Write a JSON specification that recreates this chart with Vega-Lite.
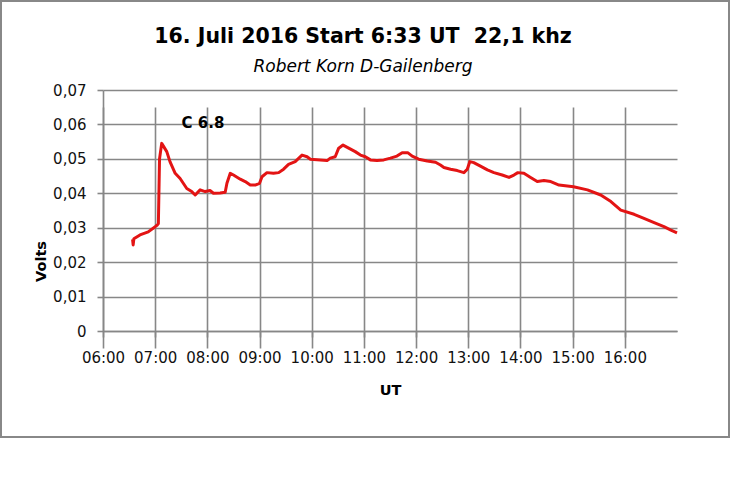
{
  "$schema": "https://vega.github.io/schema/vega-lite/v6.json",
  "width": 728,
  "height": 436,
  "autosize": {"type": "none"},
  "padding": {"left": 1, "top": 1, "right": 1, "bottom": 65},
  "background": "white",
  "title": {
    "text": "16. Juli 2016 Start 6:33 UT \u00a022,1 khz",
    "subtitle": "Robert Korn D-Gailenberg",
    "font": "DejaVu Sans",
    "fontSize": 20.5,
    "fontWeight": "bold",
    "color": "#000000",
    "subtitleFont": "DejaVu Sans",
    "subtitleFontSize": 17,
    "subtitleFontStyle": "italic",
    "subtitleColor": "#000000",
    "subtitlePadding": 12,
    "anchor": "middle",
    "frame": "group",
    "offset": 0,
    "dx": -2,
    "dy": 74
  },
  "config": {
    "view": {"stroke": "#888888", "strokeWidth": 2},
    "font": "DejaVu Sans"
  },
  "datasets": {
    "signal": [
      {"t": "2016-07-16T06:34:00", "v": 0.0266},
      {"t": "2016-07-16T06:34:40", "v": 0.0250},
      {"t": "2016-07-16T06:35:30", "v": 0.0268},
      {"t": "2016-07-16T06:42:30", "v": 0.0279},
      {"t": "2016-07-16T06:52:00", "v": 0.0288},
      {"t": "2016-07-16T07:00:00", "v": 0.0303},
      {"t": "2016-07-16T07:02:30", "v": 0.0308},
      {"t": "2016-07-16T07:03:40", "v": 0.0312},
      {"t": "2016-07-16T07:05:00", "v": 0.0500},
      {"t": "2016-07-16T07:07:30", "v": 0.0545},
      {"t": "2016-07-16T07:13:20", "v": 0.0521},
      {"t": "2016-07-16T07:17:00", "v": 0.0492},
      {"t": "2016-07-16T07:23:00", "v": 0.0458},
      {"t": "2016-07-16T07:28:40", "v": 0.0443},
      {"t": "2016-07-16T07:36:20", "v": 0.0414},
      {"t": "2016-07-16T07:42:00", "v": 0.0405},
      {"t": "2016-07-16T07:46:00", "v": 0.0395},
      {"t": "2016-07-16T07:51:40", "v": 0.0410},
      {"t": "2016-07-16T07:57:30", "v": 0.0405},
      {"t": "2016-07-16T08:03:00", "v": 0.0408},
      {"t": "2016-07-16T08:07:00", "v": 0.0400},
      {"t": "2016-07-16T08:14:40", "v": 0.0401},
      {"t": "2016-07-16T08:20:30", "v": 0.0403},
      {"t": "2016-07-16T08:22:30", "v": 0.0429},
      {"t": "2016-07-16T08:26:20", "v": 0.0458},
      {"t": "2016-07-16T08:30:00", "v": 0.0453},
      {"t": "2016-07-16T08:37:50", "v": 0.0441},
      {"t": "2016-07-16T08:43:30", "v": 0.0434},
      {"t": "2016-07-16T08:49:20", "v": 0.0424},
      {"t": "2016-07-16T08:55:00", "v": 0.0424},
      {"t": "2016-07-16T09:00:00", "v": 0.0429},
      {"t": "2016-07-16T09:02:50", "v": 0.0448},
      {"t": "2016-07-16T09:08:30", "v": 0.0460},
      {"t": "2016-07-16T09:16:00", "v": 0.0458},
      {"t": "2016-07-16T09:22:00", "v": 0.0460},
      {"t": "2016-07-16T09:27:40", "v": 0.0470},
      {"t": "2016-07-16T09:33:20", "v": 0.0484},
      {"t": "2016-07-16T09:41:00", "v": 0.0492},
      {"t": "2016-07-16T09:48:50", "v": 0.0511},
      {"t": "2016-07-16T09:54:40", "v": 0.0506},
      {"t": "2016-07-16T09:58:30", "v": 0.0499},
      {"t": "2016-07-16T10:10:00", "v": 0.0497},
      {"t": "2016-07-16T10:17:40", "v": 0.0495},
      {"t": "2016-07-16T10:21:20", "v": 0.0502},
      {"t": "2016-07-16T10:27:00", "v": 0.0506},
      {"t": "2016-07-16T10:31:00", "v": 0.0531},
      {"t": "2016-07-16T10:36:00", "v": 0.0540},
      {"t": "2016-07-16T10:42:30", "v": 0.0531},
      {"t": "2016-07-16T10:50:00", "v": 0.0521},
      {"t": "2016-07-16T10:56:00", "v": 0.0511},
      {"t": "2016-07-16T11:01:40", "v": 0.0506},
      {"t": "2016-07-16T11:07:30", "v": 0.0497},
      {"t": "2016-07-16T11:15:00", "v": 0.0495},
      {"t": "2016-07-16T11:22:50", "v": 0.0497},
      {"t": "2016-07-16T11:30:30", "v": 0.0502},
      {"t": "2016-07-16T11:38:00", "v": 0.0508},
      {"t": "2016-07-16T11:44:00", "v": 0.0518},
      {"t": "2016-07-16T11:50:20", "v": 0.0518},
      {"t": "2016-07-16T11:55:30", "v": 0.0508},
      {"t": "2016-07-16T12:03:00", "v": 0.0499},
      {"t": "2016-07-16T12:12:50", "v": 0.0494},
      {"t": "2016-07-16T12:22:20", "v": 0.0490},
      {"t": "2016-07-16T12:28:00", "v": 0.0482},
      {"t": "2016-07-16T12:32:00", "v": 0.0475},
      {"t": "2016-07-16T12:39:40", "v": 0.0470},
      {"t": "2016-07-16T12:47:20", "v": 0.0466},
      {"t": "2016-07-16T12:55:00", "v": 0.0460},
      {"t": "2016-07-16T12:58:50", "v": 0.0470},
      {"t": "2016-07-16T13:01:50", "v": 0.0492},
      {"t": "2016-07-16T13:06:20", "v": 0.0489},
      {"t": "2016-07-16T13:14:00", "v": 0.0479},
      {"t": "2016-07-16T13:22:00", "v": 0.0468},
      {"t": "2016-07-16T13:29:30", "v": 0.0460},
      {"t": "2016-07-16T13:39:00", "v": 0.0453},
      {"t": "2016-07-16T13:46:50", "v": 0.0446},
      {"t": "2016-07-16T13:52:30", "v": 0.0453},
      {"t": "2016-07-16T13:57:00", "v": 0.0460},
      {"t": "2016-07-16T14:04:00", "v": 0.0458},
      {"t": "2016-07-16T14:11:40", "v": 0.0446},
      {"t": "2016-07-16T14:19:20", "v": 0.0434},
      {"t": "2016-07-16T14:27:00", "v": 0.0437},
      {"t": "2016-07-16T14:34:50", "v": 0.0434},
      {"t": "2016-07-16T14:44:20", "v": 0.0424},
      {"t": "2016-07-16T15:01:00", "v": 0.0419},
      {"t": "2016-07-16T15:17:00", "v": 0.0410},
      {"t": "2016-07-16T15:32:20", "v": 0.0395},
      {"t": "2016-07-16T15:44:00", "v": 0.0376},
      {"t": "2016-07-16T15:55:20", "v": 0.0351},
      {"t": "2016-07-16T16:10:40", "v": 0.0339},
      {"t": "2016-07-16T16:22:00", "v": 0.0327},
      {"t": "2016-07-16T16:33:40", "v": 0.0315},
      {"t": "2016-07-16T16:45:00", "v": 0.0303},
      {"t": "2016-07-16T16:53:00", "v": 0.0293},
      {"t": "2016-07-16T17:00:00", "v": 0.0285}
    ],
    "note": [
      {"t": "2016-07-16T07:55:00", "v": 0.0605, "label": "C 6.8"}
    ]
  },
  "layer": [
    {
      "data": {"name": "signal"},
      "mark": {"type": "line", "color": "#e31414", "strokeWidth": 3, "strokeJoin": "round"},
      "encoding": {
        "x": {
          "field": "t",
          "type": "temporal",
          "title": "UT",
          "scale": {
            "domain": [
              {"year": 2016, "month": 7, "date": 16, "hours": 6},
              {"year": 2016, "month": 7, "date": 16, "hours": 17}
            ],
            "range": [102, 676]
          },
          "axis": {
            "values": [
              {"year": 2016, "month": 7, "date": 16, "hours": 6},
              {"year": 2016, "month": 7, "date": 16, "hours": 7},
              {"year": 2016, "month": 7, "date": 16, "hours": 8},
              {"year": 2016, "month": 7, "date": 16, "hours": 9},
              {"year": 2016, "month": 7, "date": 16, "hours": 10},
              {"year": 2016, "month": 7, "date": 16, "hours": 11},
              {"year": 2016, "month": 7, "date": 16, "hours": 12},
              {"year": 2016, "month": 7, "date": 16, "hours": 13},
              {"year": 2016, "month": 7, "date": 16, "hours": 14},
              {"year": 2016, "month": 7, "date": 16, "hours": 15},
              {"year": 2016, "month": 7, "date": 16, "hours": 16}
            ],
            "format": "%H:%M",
            "orient": "bottom",
            "offset": -106,
            "grid": true,
            "gridColor": "#878787",
            "gridWidth": 1.6,
            "domainColor": "#878787",
            "domainWidth": 1.6,
            "tickColor": "#878787",
            "tickWidth": 1.6,
            "tickSize": 6,
            "labelFont": "DejaVu Sans",
            "labelFontSize": 15,
            "labelColor": "#111111",
            "labelPadding": 13,
            "labelOverlap": false,
            "labelFlush": false,
            "titleFont": "DejaVu Sans",
            "titleFontSize": 14.5,
            "titleFontWeight": "bold",
            "titleColor": "#000000",
            "titleBaseline": "alphabetic",
            "titleY": 63
          }
        },
        "y": {
          "field": "v",
          "type": "quantitative",
          "title": "Volts",
          "scale": {"domain": [0, 0.07], "range": [330, 89], "nice": false, "zero": false},
          "axis": {
            "values": [0, 0.01, 0.02, 0.03, 0.04, 0.05, 0.06, 0.07],
            "labelExpr": "datum.value == 0 ? '0' : replace(format(datum.value, '.2f'), '.', ',')",
            "offset": -102,
            "grid": true,
            "gridColor": "#878787",
            "gridWidth": 1.6,
            "domainColor": "#878787",
            "domainWidth": 1.6,
            "tickColor": "#878787",
            "tickWidth": 1.6,
            "tickSize": 6,
            "labelFont": "DejaVu Sans",
            "labelFontSize": 15,
            "labelColor": "#111111",
            "labelPadding": 11,
            "labelOverlap": false,
            "labelFlush": false,
            "titleFont": "DejaVu Sans",
            "titleFontSize": 14.5,
            "titleFontWeight": "bold",
            "titleColor": "#000000",
            "titleAngle": 270,
            "titleBaseline": "alphabetic",
            "titleX": -58,
            "titleY": 260
          }
        }
      }
    },
    {
      "data": {"name": "note"},
      "mark": {"type": "text", "font": "DejaVu Sans", "fontSize": 15, "fontWeight": "bold", "color": "#000000", "baseline": "middle", "align": "center"},
      "encoding": {
        "x": {"field": "t", "type": "temporal"},
        "y": {"field": "v", "type": "quantitative"},
        "text": {"field": "label"}
      }
    }
  ]
}
